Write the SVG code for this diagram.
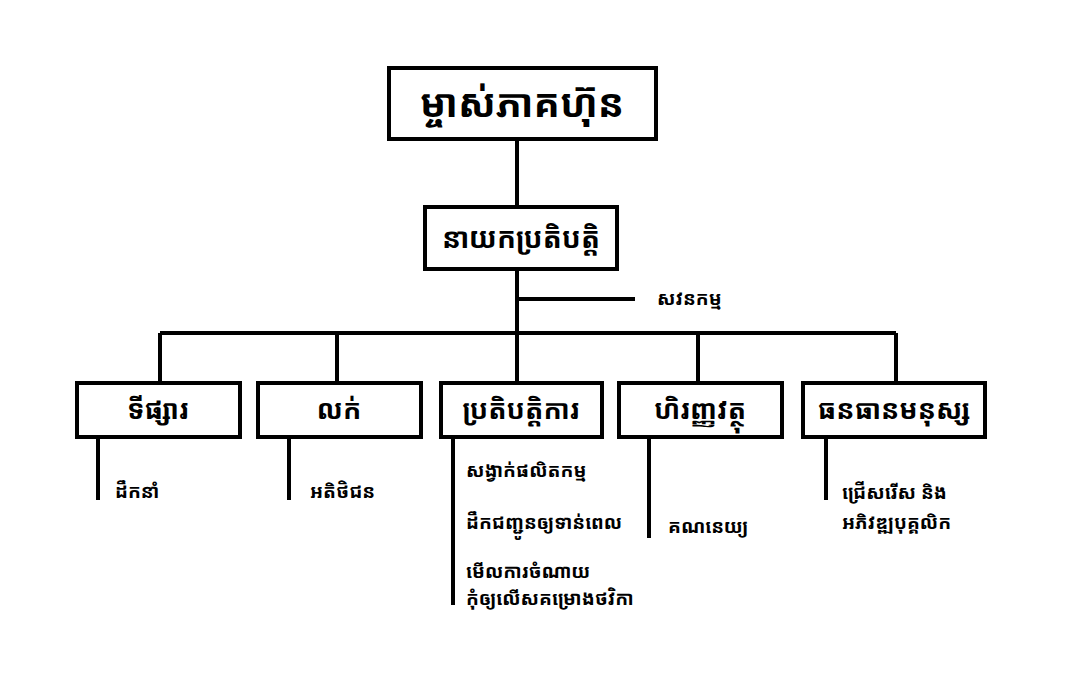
<svg xmlns="http://www.w3.org/2000/svg" width="1080" height="681" viewBox="0 0 1080 681">
<style>
.box{fill:#fff;stroke:#000;stroke-width:4}
.ln{stroke:#000;stroke-width:4;fill:none}
text{font-family:"Noto Sans Khmer","Khmer OS","Noto Sans","DejaVu Sans",sans-serif;fill:#000}
.t1{font-size:39px;font-weight:bold;text-anchor:middle}
.t2{font-size:28px;font-weight:bold;text-anchor:middle}
.t3{font-size:27px;font-weight:bold;text-anchor:middle}
.s{font-size:19px;font-weight:bold}
</style>
<rect width="1080" height="681" fill="#fff"/>
<g id="connectors">
<path class="ln" d="M517 139V207M517 269V333M517 299H635M160 333H896M160 333V383M337 333V383M517 333V383M698 333V383M896 333V383"/>
<path class="ln" d="M98 437V500M289 437V500M453 437V605M649 437V538M826 437V500"/>
</g>
<g id="n-owner"><rect class="box" x="389" y="68" width="267" height="71"/><text class="t1" x="522" y="117">ម្ចាស់ភាគហ៊ុន</text></g>
<g id="n-ceo"><rect class="box" x="425" y="207" width="192" height="62"/><text class="t2" x="521" y="248">នាយកប្រតិបត្តិ</text></g>
<g id="n-audit"><text class="s" x="657" y="305">សវនកម្ម</text></g>
<g id="n-marketing"><rect class="box" x="77" y="383" width="163" height="54"/><text class="t3" x="158" y="419">ទីផ្សារ</text></g>
<g id="n-sales"><rect class="box" x="258" y="383" width="163" height="54"/><text class="t3" x="339" y="419">លក់</text></g>
<g id="n-ops"><rect class="box" x="441" y="383" width="161" height="54"/><text class="t3" x="521" y="419">ប្រតិបត្តិការ</text></g>
<g id="n-finance"><rect class="box" x="619" y="383" width="163" height="54"/><text class="t3" x="700" y="419">ហិរញ្ញវត្ថុ</text></g>
<g id="n-hr"><rect class="box" x="803" y="383" width="182" height="54"/><text class="t3" x="894" y="419">ធនធានមនុស្ស</text></g>
<g id="n-marketing-sub"><text class="s" x="115" y="498">ដឹកនាំ</text></g>
<g id="n-sales-sub"><text class="s" x="310" y="498">អតិថិជន</text></g>
<g id="n-ops-sub">
<text class="s" x="466" y="477">សង្វាក់ផលិតកម្ម</text>
<text class="s" x="466" y="529">ដឹកជញ្ជូនឲ្យទាន់ពេល</text>
<text class="s" x="466" y="578">មើលការចំណាយ</text>
<text class="s" x="466" y="605">កុំឲ្យលើសគម្រោងថវិកា</text>
</g>
<g id="n-finance-sub"><text class="s" x="668" y="533">គណនេយ្យ</text></g>
<g id="n-hr-sub">
<text class="s" x="842" y="499">ជ្រើសរើស និង</text>
<text class="s" x="842" y="529">អភិវឌ្ឍបុគ្គលិក</text>
</g>
</svg>
